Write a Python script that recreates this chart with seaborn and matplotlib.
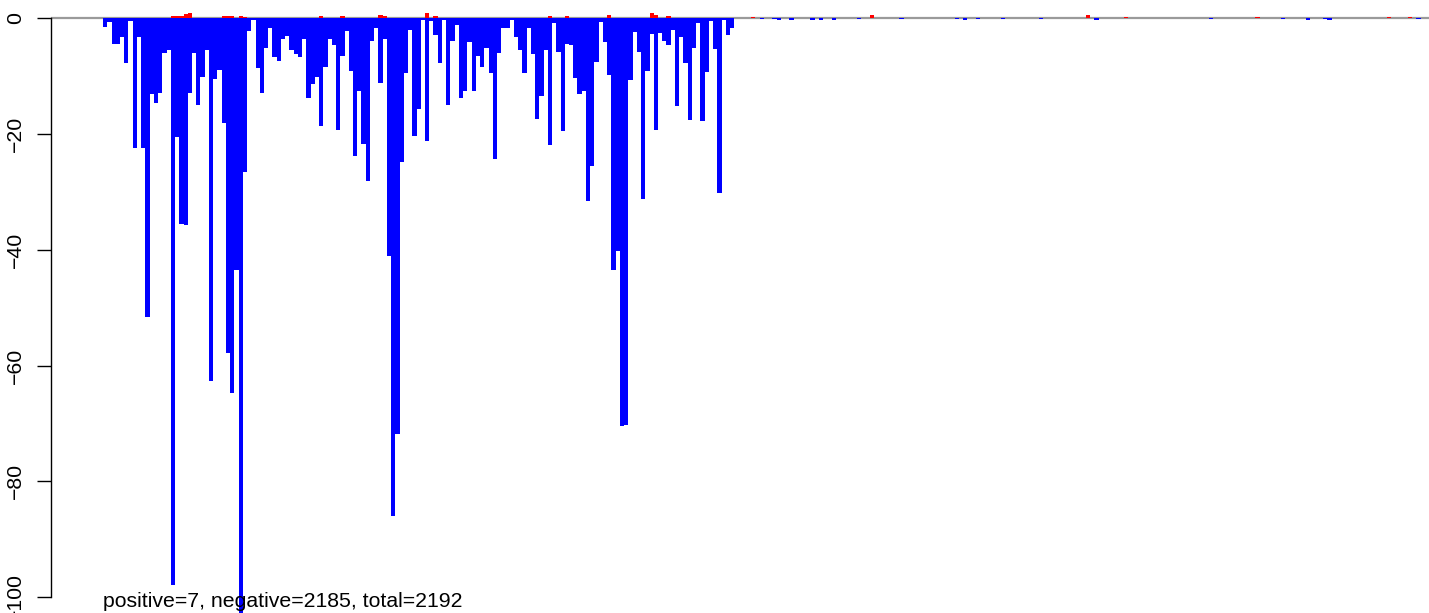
import numpy as np
import pandas as pd
import matplotlib
matplotlib.use("Agg")
import matplotlib.pyplot as plt
import seaborn as sns

# bar values (blocks of adjacent bars)
neg_left = [
    -1.6, -0.7, -4.5, -4.5, -3.3, -7.8, -0.6, -22.5, -3.3, -22.5,
    -51.6, -13.2, -14.6, -12.9, -6.0, -5.5, -97.8, -20.6, -35.5, -35.7,
    -13.0, -6.0, -15.1, -10.2, -5.5, -62.6, -10.5, -9.0, -18.2, -57.8,
    -64.8, -43.5, -104.0, -26.5, -2.3, -0.4, -8.6, -12.9, -5.2, -1.8,
    -6.7, -7.5, -3.6, -3.1, -5.5, -6.3, -6.8, -3.6, -13.8, -11.4,
    -10.2, -18.7, -8.4, -3.6, -4.7, -19.3, -6.5, -2.2, -9.2, -23.8,
    -12.6, -21.7, -28.1, -4.0, -1.8, -11.3, -3.6, -41.1, -86.0, -71.8,
    -24.9, -9.5, -2.0, -20.3, -15.7, -0.3, -21.3, -0.6, -3.0, -7.7,
    -0.3, -15.1, -4.0, -1.3, -13.9, -12.6, -4.1, -12.6, -6.5, -8.4,
    -5.2, -9.5, -24.3, -6.1, -1.8, -1.8, -0.3, -3.3, -5.6, -9.5,
    -1.8, -6.3, -17.5, -13.4, -5.5, -22.0, -0.8, -5.9, -19.5, -4.5,
    -4.7, -10.4, -13.1, -12.6, -31.6, -25.6, -7.6, -0.7, -4.1, -9.9,
    -43.5, -40.2, -70.4, -70.2, -10.7, -2.4, -5.9, -31.2, -9.2, -2.8,
    -19.4, -2.6, -4.0, -4.7, -2.1, -15.2, -3.3, -7.8, -17.6, -5.2,
    -0.9, -17.8, -9.3, -0.6, -5.3, -30.2, -0.4, -3.0, -1.8,
]
neg_right = [
    0, 0, 0, 0, 0, 0, -0.2, 0, 0, -0.2, -0.3, 0, 0, -0.3, 0, 0, 0, 0, -0.3, 0,
    -0.3, 0, 0, -0.3, 0, 0, 0, 0, 0, -0.2, 0, 0, 0, 0, 0, 0, 0, 0, 0, -0.2,
    0, 0, 0, 0, 0, 0, 0, 0, 0, 0, 0, 0, -0.2, 0, -0.3, 0, 0, -0.2, 0, 0,
    0, 0, 0, -0.2, 0, 0, 0, 0, 0, 0, 0, 0, -0.2, 0, 0, 0, 0, 0, 0, 0,
    0, 0, 0, 0, 0, -0.3, 0, 0, 0, 0, 0, 0, 0, 0, 0, 0, 0, 0, 0, 0,
    0, 0, 0, 0, 0, 0, 0, 0, 0, 0, 0, 0, -0.2, 0, 0, 0, 0, 0, 0, 0,
    0, 0, 0, 0, 0, 0, 0, 0, 0, -0.2, 0, 0, 0, 0, 0, -0.4, 0, 0, 0, -0.2,
    -0.4, 0, 0, 0, 0, 0, 0, 0, 0, 0, 0, 0, 0, 0, 0, 0, 0, 0, 0, 0,
    0, -0.2, 0, 0,
]
pos_left = [
    0, 0, 0, 0, 0, 0, 0, 0, 0, 0, 0, 0, 0, 0, 0, 0, 0.3, 0.3, 0.4, 0.6,
    0.8, 0, 0, 0, 0, 0, 0, 0, 0.4, 0.4, 0.3, 0, 0.3, 0.2, 0, 0, 0, 0, 0, 0,
    0, 0, 0, 0, 0, 0, 0, 0, 0, 0, 0, 0.3, 0, 0, 0, 0, 0.3, 0, 0, 0,
    0, 0, 0, 0, 0, 0.5, 0.3, 0, 0, 0, 0, 0, 0, 0, 0, 0, 0.9, 0, 0.4, 0,
    0, 0, 0, 0, 0, 0, 0, 0, 0, 0, 0, 0, 0, 0, 0, 0, 0, 0, 0, 0,
    0, 0, 0, 0, 0, 0.3, 0, 0, 0, 0.3, 0, 0, 0, 0, 0, 0, 0, 0, 0, 0.5,
    0, 0, 0, 0, 0, 0, 0, 0, 0, 0.9, 0.5, 0, 0, 0.3, 0, 0, 0, 0, 0, 0,
    0, 0, 0, 0, 0, 0, 0, 0, 0,
]
pos_right = [
    0, 0, 0, 0, 0.2, 0, 0, 0, 0, 0, 0, 0, 0, 0, 0, 0, 0, 0, 0, 0,
    0, 0, 0, 0, 0, 0, 0, 0, 0, 0, 0, 0, 0.5, 0, 0, 0, 0, 0, 0, 0,
    0, 0, 0, 0, 0, 0, 0, 0, 0, 0, 0, 0, 0, 0, 0, 0, 0, 0, 0, 0,
    0, 0, 0, 0, 0, 0, 0, 0, 0, 0, 0, 0, 0, 0, 0, 0, 0, 0, 0, 0,
    0, 0, 0, 0.5, 0, 0, 0, 0, 0, 0, 0, 0, 0.2, 0, 0, 0, 0, 0, 0, 0,
    0, 0, 0, 0, 0, 0, 0, 0, 0, 0, 0, 0, 0, 0, 0, 0, 0, 0, 0, 0,
    0, 0, 0, 0.2, 0, 0, 0, 0, 0, 0, 0, 0, 0, 0, 0, 0, 0, 0, 0, 0,
    0, 0, 0, 0, 0, 0, 0, 0, 0, 0, 0, 0, 0, 0, 0.2, 0, 0, 0, 0, 0.2,
    0, 0, 0, 0,
]
yticks = [0, -20, -40, -60, -80, -100]
label = "positive=7, negative=2185, total=2192"

neg_vals = neg_left + neg_right
pos_vals = pos_left + pos_right
n_bars = len(neg_vals)
df = pd.DataFrame({"idx": np.arange(n_bars), "neg": neg_vals, "pos": pos_vals})

sns.set_theme(style="white")
plt.rcParams["font.family"] = ["Liberation Sans", "DejaVu Sans"]

W, H = 1429, 613
fig = plt.figure(figsize=(W / 100, H / 100), dpi=100)
ax_left = 50.5 / W
ax = fig.add_axes([ax_left, 0, 1 - ax_left, 1])

ax.axhline(0, color="#9a9a9a", lw=1.6, zorder=0)
sns.barplot(data=df, x="idx", y="neg", color="blue", width=1, linewidth=0,
            saturation=1, errorbar=None, ax=ax, zorder=2, antialiased=False)
sns.barplot(data=df, x="idx", y="pos", color="red", width=1, linewidth=0,
            saturation=1, errorbar=None, ax=ax, zorder=2, antialiased=False)

# first bar starts ~52px right of the axis line (bar step ~4.24px)
ax.set_xlim(-0.5 - 12.4, n_bars - 0.5)
ax.set_ylim(-102.7, 3.1)
ax.set_xticks([])
ax.set_xlabel("")
ax.set_ylabel("")

for s in ["top", "right", "bottom"]:
    ax.spines[s].set_visible(False)
ax.spines["left"].set_bounds(-100, 0)
ax.spines["left"].set_color("black")
ax.spines["left"].set_linewidth(1.0)

ax.set_yticks(yticks)
ax.set_yticklabels([str(v).replace("-", "\u2212") for v in yticks])
ax.tick_params(axis="y", left=True, length=10, width=1.0, color="black",
               labelsize=15.3, pad=8.4, labelrotation=90, labelcolor="black")
for t in ax.get_yticklabels():
    t.set_va("center")

fig.text(103 / W, 6 / H, label, fontsize=15.3, color="black", va="baseline", ha="left")

fig.savefig("out.png", dpi=100)
